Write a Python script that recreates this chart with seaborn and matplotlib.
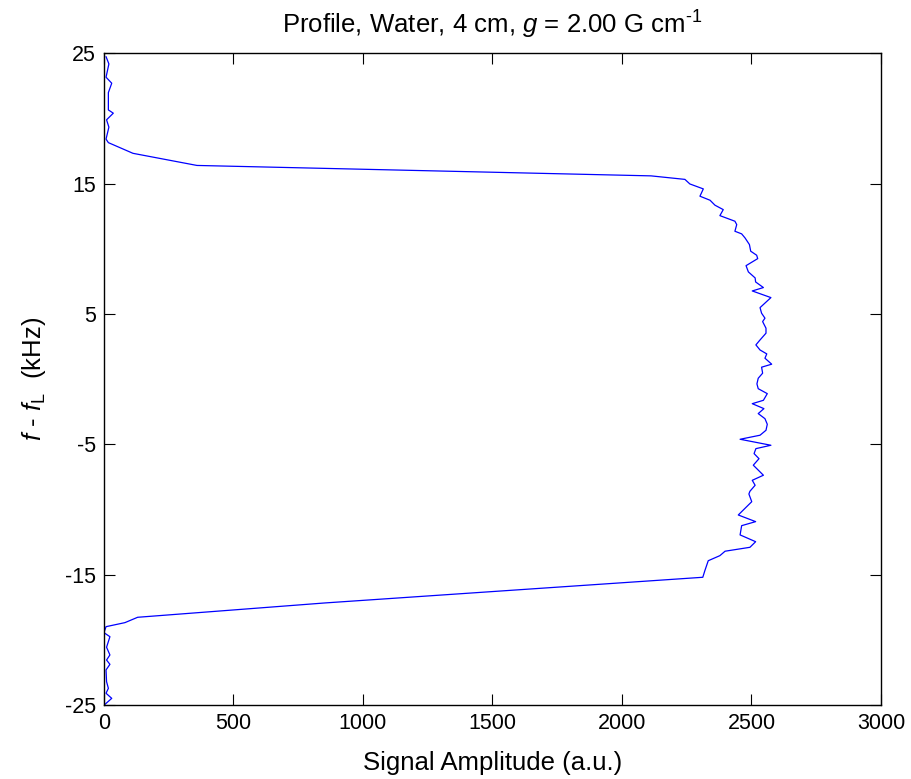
import numpy as np
import pandas as pd
import matplotlib
matplotlib.use("Agg")
import matplotlib.pyplot as plt
import seaborn as sns

# frequency offset (kHz) and signal amplitude (a.u.)
freq_khz = [24.75, 24.19, 23.17, 22.71, 21.99, 20.66, 20.41, 19.90, 19.34, 18.42,
            18.15, 17.33, 16.40, 15.60, 15.33, 14.98, 14.60, 14.04, 13.73, 13.35,
            13.01, 12.55, 12.12, 11.86, 11.35, 11.15, 10.84, 10.33, 9.82, 9.51,
            9.25, 8.71, 8.23, 7.77, 7.46, 7.03, 6.77, 6.26, 5.49, 5.06,
            4.68, 4.42, 3.91, 3.53, 3.01, 2.63, 2.24, 1.94, 1.61, 1.15,
            0.92, 0.46, 0.07, -0.36, -0.73, -1.11, -1.62, -1.88, -2.26, -2.64,
            -3.03, -3.46, -3.92, -4.30, -4.61, -5.07, -5.33, -5.71, -6.10, -6.60,
            -7.37, -7.76, -8.14, -8.60, -8.81, -9.40, -10.42, -10.93, -11.24, -11.95,
            -12.47, -12.90, -13.20, -13.54, -13.93, -14.69, -15.20, -17.17, -18.27, -18.68,
            -18.99, -19.45, -19.76, -20.57, -21.16, -21.55, -21.88, -22.31, -23.21, -23.72,
            -24.10, -24.49, -25.00]
amplitude = [8, 19, 8, 30, 17, 17, 36, 10, 19, 8,
             17, 112, 359, 2112, 2243, 2262, 2314, 2301, 2340, 2359,
             2391, 2378, 2436, 2443, 2436, 2462, 2475, 2492, 2497, 2520,
             2524, 2479, 2488, 2514, 2516, 2546, 2503, 2575, 2533, 2539,
             2552, 2543, 2556, 2556, 2533, 2517, 2533, 2559, 2552, 2578,
             2539, 2543, 2526, 2521, 2526, 2561, 2546, 2503, 2548, 2526,
             2552, 2561, 2556, 2533, 2456, 2575, 2517, 2510, 2529, 2507,
             2546, 2503, 2514, 2494, 2490, 2501, 2449, 2516, 2462, 2456,
             2516, 2494, 2398, 2378, 2333, 2320, 2312, 853, 130, 81,
             8, 0, 23, 10, 23, 10, 23, 8, 10, 17,
             8, 30, 1]

x_ticks = [0, 500, 1000, 1500, 2000, 2500, 3000]
y_ticks = [-25, -15, -5, 5, 15, 25]

sns.set_theme(style="white")
plt.rcParams["font.family"] = ["Liberation Sans", "DejaVu Sans"]
plt.rcParams["mathtext.fontset"] = "custom"
plt.rcParams["mathtext.rm"] = "Liberation Sans"
plt.rcParams["mathtext.it"] = "Liberation Sans:italic"
plt.rcParams["mathtext.bf"] = "Liberation Sans:bold"
for k in ["text.color", "axes.labelcolor", "xtick.color", "ytick.color"]:
    plt.rcParams[k] = "black"

df = pd.DataFrame({"freq": freq_khz, "amp": amplitude})

fig = plt.figure(figsize=(9.12, 7.79), dpi=100)
ax = fig.add_axes([0.114, 0.095, 0.852, 0.8365])
sns.lineplot(data=df, x="amp", y="freq", sort=False, estimator=None,
             color="#0000ff", linewidth=0.9, ax=ax)

ax.set_xlim(0, 3000)
ax.set_ylim(-25, 25)
ax.set_xticks(x_ticks)
ax.set_yticks(y_ticks)
ax.set_xticklabels([str(v) for v in x_ticks], fontsize=15.5)
ax.set_yticklabels([str(v) for v in y_ticks], fontsize=15.5)
ax.tick_params(direction="in", length=8, width=0.8, color="black",
               top=True, right=True, bottom=True, left=True, pad=6)
for s in ax.spines.values():
    s.set_visible(True)
    s.set_color("black")
    s.set_linewidth(1.0)

ax.set_xlabel("Signal Amplitude (a.u.)", fontsize=18.5, labelpad=12)
ax.set_ylabel(r"$f$ - $f_{\mathrm{L}}$  (kHz)", fontsize=18.5, labelpad=12)
ax.set_title(r"Profile, Water, 4 cm, $g$ = 2.00 G cm$^{\text{-1}}$", fontsize=18.5, pad=14)

fig.savefig("out.png", dpi=100, facecolor="white")
